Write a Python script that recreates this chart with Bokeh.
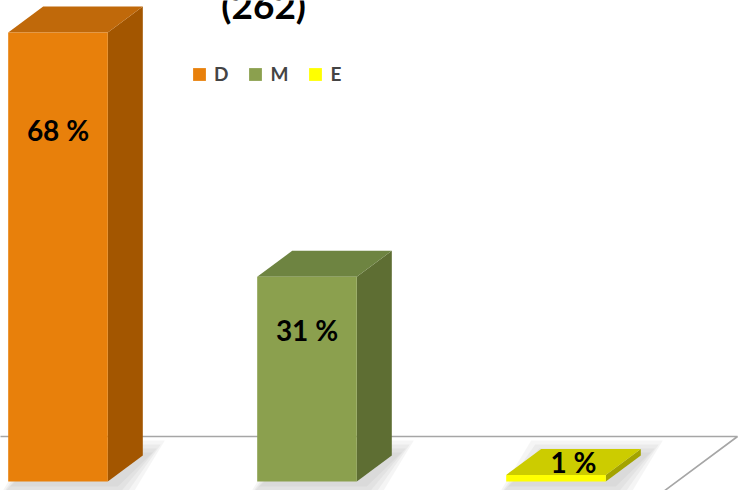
from bokeh.plotting import figure
from bokeh.models import ColumnDataSource, Range1d, Legend, LegendItem
from bokeh.core.properties import value
from bokeh.embed import file_html
from bokeh.resources import INLINE

# ---------------- data ----------------
categories = ["D", "M", "E"]
percentages = [68, 31, 1]
total_count = 262
front_colors = ["#E8800B", "#8BA04E", "#FFFF00"]
side_colors = ["#A35600", "#5E6E33", "#A3A300"]
top_colors = ["#C0690A", "#6E8441", "#CCCC00"]

# ---------------- layout constants ----------------
W, H = 740, 490
bar_w = 0.4          # front face width (category units)
depth_x = 0.1406     # 3-D depth offset, x
depth_y = 3.94       # 3-D depth offset, y (percent units)
floor_depth = 1.73   # floor depth relative to bar depth
floor_right = 2.729  # right back corner of floor
FONT = "Lato"

p = figure(width=W, height=H,
           x_range=Range1d(-0.2309, 2.741), y_range=Range1d(-1.363, 72.85),
           output_backend="svg", toolbar_location=None, min_border=0,
           x_axis_location=None, y_axis_location=None)
p.grid.visible = False
p.outline_line_color = None
p.background_fill_color = "white"
p.border_fill_color = "white"

xs = list(range(len(categories)))
lefts = [x - bar_w / 2 for x in xs]
rights = [x + bar_w / 2 for x in xs]

# ---------------- soft shadows ----------------
sx, sy = 0.024, -0.15
for e in [16, 12, 8, 4]:
    ex, ey = e / 249.0, e / 6.6
    shx, shy = [], []
    for l, r in zip(lefts, rights):
        shx.append([l - ex + sx, r + ex + sx, r + depth_x + ex + sx, l + depth_x - ex + sx])
        shy.append([-ey + sy, -ey + sy, depth_y + ey + sy, depth_y + ey + sy])
    p.patches(shx, shy, fill_color="#7F7F7F", fill_alpha=0.08, line_color=None)

# ---------------- floor ----------------
fy = floor_depth * depth_y
p.line([-0.5, floor_right, floor_right - 1.4 * floor_depth * depth_x],
       [fy, fy, fy - 1.4 * fy], line_color="#A6A6A6", line_width=1.6)

# ---------------- bars ----------------
side_x = [[r, r + depth_x, r + depth_x, r] for r in rights]
side_y = [[0, depth_y, v + depth_y, v] for v in percentages]
top_x = [[l, r, r + depth_x, l + depth_x] for l, r in zip(lefts, rights)]
top_y = [[v, v, v + depth_y, v + depth_y] for v in percentages]

p.patches(side_x, side_y, fill_color=side_colors, line_color=None)
p.patches(top_x, top_y, fill_color=top_colors, line_color=None)
front_src = ColumnDataSource(dict(left=lefts, right=rights, top=percentages,
                                  bottom=[0] * len(xs), color=front_colors, cat=categories))
front_r = p.quad(left="left", right="right", top="top", bottom="bottom",
                 fill_color="color", line_color=None, source=front_src)

# ---------------- data labels ----------------
lab_x, lab_y = [], []
for x, v in zip(xs, percentages):
    if v < 5:   # too short: label sits on the top face
        lab_x.append(x + depth_x / 2)
        lab_y.append(v + depth_y / 2)
    else:
        lab_x.append(x)
        lab_y.append(v - min(14.8, 0.26 * v))
labels = [f"{v} %" for v in percentages]
p.text(x=lab_x, y=lab_y, text=labels, text_align="center", text_baseline="middle",
       text_font=value(FONT), text_font_style="bold", text_font_size="28px",
       text_color="black")

# ---------------- title (cut off at the top, as in the original) ----------------
p.text(x=[0.826], y=[72.3], text=[f"({total_count})"], text_align="center",
       text_baseline="middle", text_font=value(FONT), text_font_style="bold",
       text_font_size="37px", text_color="black")

# ---------------- legend ----------------
items = [LegendItem(label=c, renderers=[front_r], index=i) for i, c in enumerate(categories)]
legend = Legend(items=items, orientation="horizontal", location=(191, 405),
                glyph_width=16, glyph_height=16, label_standoff=7, spacing=19,
                padding=0, margin=0, border_line_alpha=0, background_fill_alpha=0,
                label_text_font=FONT, label_text_font_style="bold",
                label_text_font_size="19px", label_width=1, label_height=16)
p.add_layout(legend)

open("out.html", "w").write(file_html(p, INLINE))
